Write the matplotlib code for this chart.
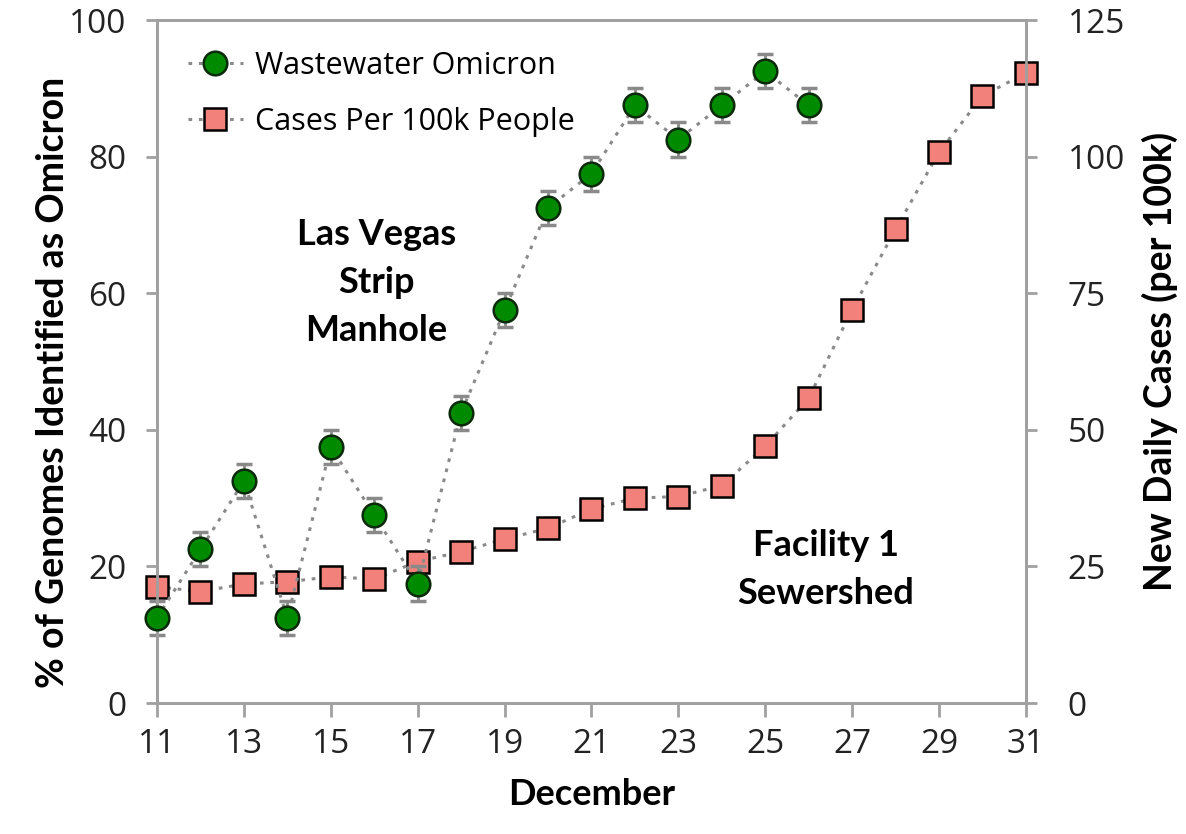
import matplotlib
matplotlib.use("Agg")
import matplotlib.pyplot as plt

# Datos
days = list(range(11, 32))
omicron_days = list(range(11, 27))
omicron_pct = [12.5, 22.5, 32.5, 12.5, 37.5, 27.5, 17.5, 42.5, 57.5, 72.5,
               77.5, 87.5, 82.5, 87.5, 92.5, 87.5]
omicron_err = [2.5] * len(omicron_pct)
cases = [21.3, 20.4, 21.8, 22.2, 23.1, 22.7, 25.9, 27.7, 30.0, 32.0, 35.5,
         37.5, 37.8, 39.8, 47.0, 55.8, 72.0, 86.7, 100.8, 111.1, 115.3]
x_ticks = list(range(11, 32, 2))
left_ticks = [0, 20, 40, 60, 80, 100]
right_ticks = [0, 25, 50, 75, 100, 125]

tick_font = "Open Sans"
bold_font = "Lato"
gray = "#8a8a8a"

fig = plt.figure(figsize=(11.86, 8.34), dpi=100)
ax = fig.add_axes([0.1324, 0.157, 0.865 - 0.1324, 0.976 - 0.157])
ax2 = ax.twinx()

# Casos (eje derecho)
ax2.plot(days, cases, linestyle=(0, (1.2, 2.2)), color=gray, lw=2.2,
         marker="s", markersize=16, markerfacecolor="#f2817c",
         markeredgecolor="black", markeredgewidth=1.8, clip_on=False,
         zorder=3, label="Cases Per 100k People")

# Omicron en aguas residuales (eje izquierdo)
ax.errorbar(omicron_days, omicron_pct, yerr=omicron_err, fmt="none",
            ecolor=gray, elinewidth=2, capsize=6, capthick=2.5,
            clip_on=False, zorder=2)
ax.plot(omicron_days, omicron_pct, linestyle=(0, (1.2, 2.2)), color=gray,
        lw=2.2, marker="o", markersize=17, markerfacecolor="#008a00",
        markeredgecolor="#0a2a0a", markeredgewidth=1.8, clip_on=False,
        zorder=4, label="Wastewater Omicron")
ax.set_zorder(ax2.get_zorder() + 1)
ax.patch.set_visible(False)

ax.set_xlim(11, 31)
ax.set_ylim(0, 100)
ax2.set_ylim(0, 125)
ax.set_xticks(x_ticks)
ax.set_yticks(left_ticks)
ax2.set_yticks(right_ticks)

for a in (ax, ax2):
    for s in a.spines.values():
        s.set_color("#a0a0a0")
        s.set_linewidth(2)
    a.tick_params(colors="#a0a0a0", width=2, length=8, labelcolor="#222222",
                  labelsize=24, pad=14)
    for lbl in a.get_xticklabels() + a.get_yticklabels():
        lbl.set_fontfamily(tick_font)
ax.tick_params(axis="x", length=10, pad=8)
ax2.tick_params(axis="y", pad=22)

ax.set_xlabel("December", fontfamily=bold_font, fontweight="bold",
              fontsize=26, labelpad=12)
ax.set_ylabel("% of Genomes Identified as Omicron", fontfamily=bold_font,
              fontweight="bold", fontsize=27, labelpad=12)
ax2.set_ylabel("New Daily Cases (per 100k)", fontfamily=bold_font,
               fontweight="bold", fontsize=27, labelpad=12)
ax.yaxis.set_label_coords(-0.1, 0.47)

ax.text(16.05, 61.6, "Las Vegas\nStrip\nManhole", ha="center", va="center",
        fontfamily=bold_font, fontweight="bold", fontsize=26, linespacing=1.55)
ax.text(26.4, 19.5, "Facility 1\nSewershed", ha="center", va="center",
        fontfamily=bold_font, fontweight="bold", fontsize=26, linespacing=1.55)

h1, l1 = ax.get_legend_handles_labels()
h2, l2 = ax2.get_legend_handles_labels()
leg = ax.legend(h1 + h2, l1 + l2, loc="upper left", frameon=False,
                bbox_to_anchor=(0.0, 1.0), prop={"family": tick_font, "size": 22},
                handlelength=1.8, handletextpad=0.4, labelspacing=0.85,
                borderpad=0.5)

fig.savefig("out.png", dpi=100)
